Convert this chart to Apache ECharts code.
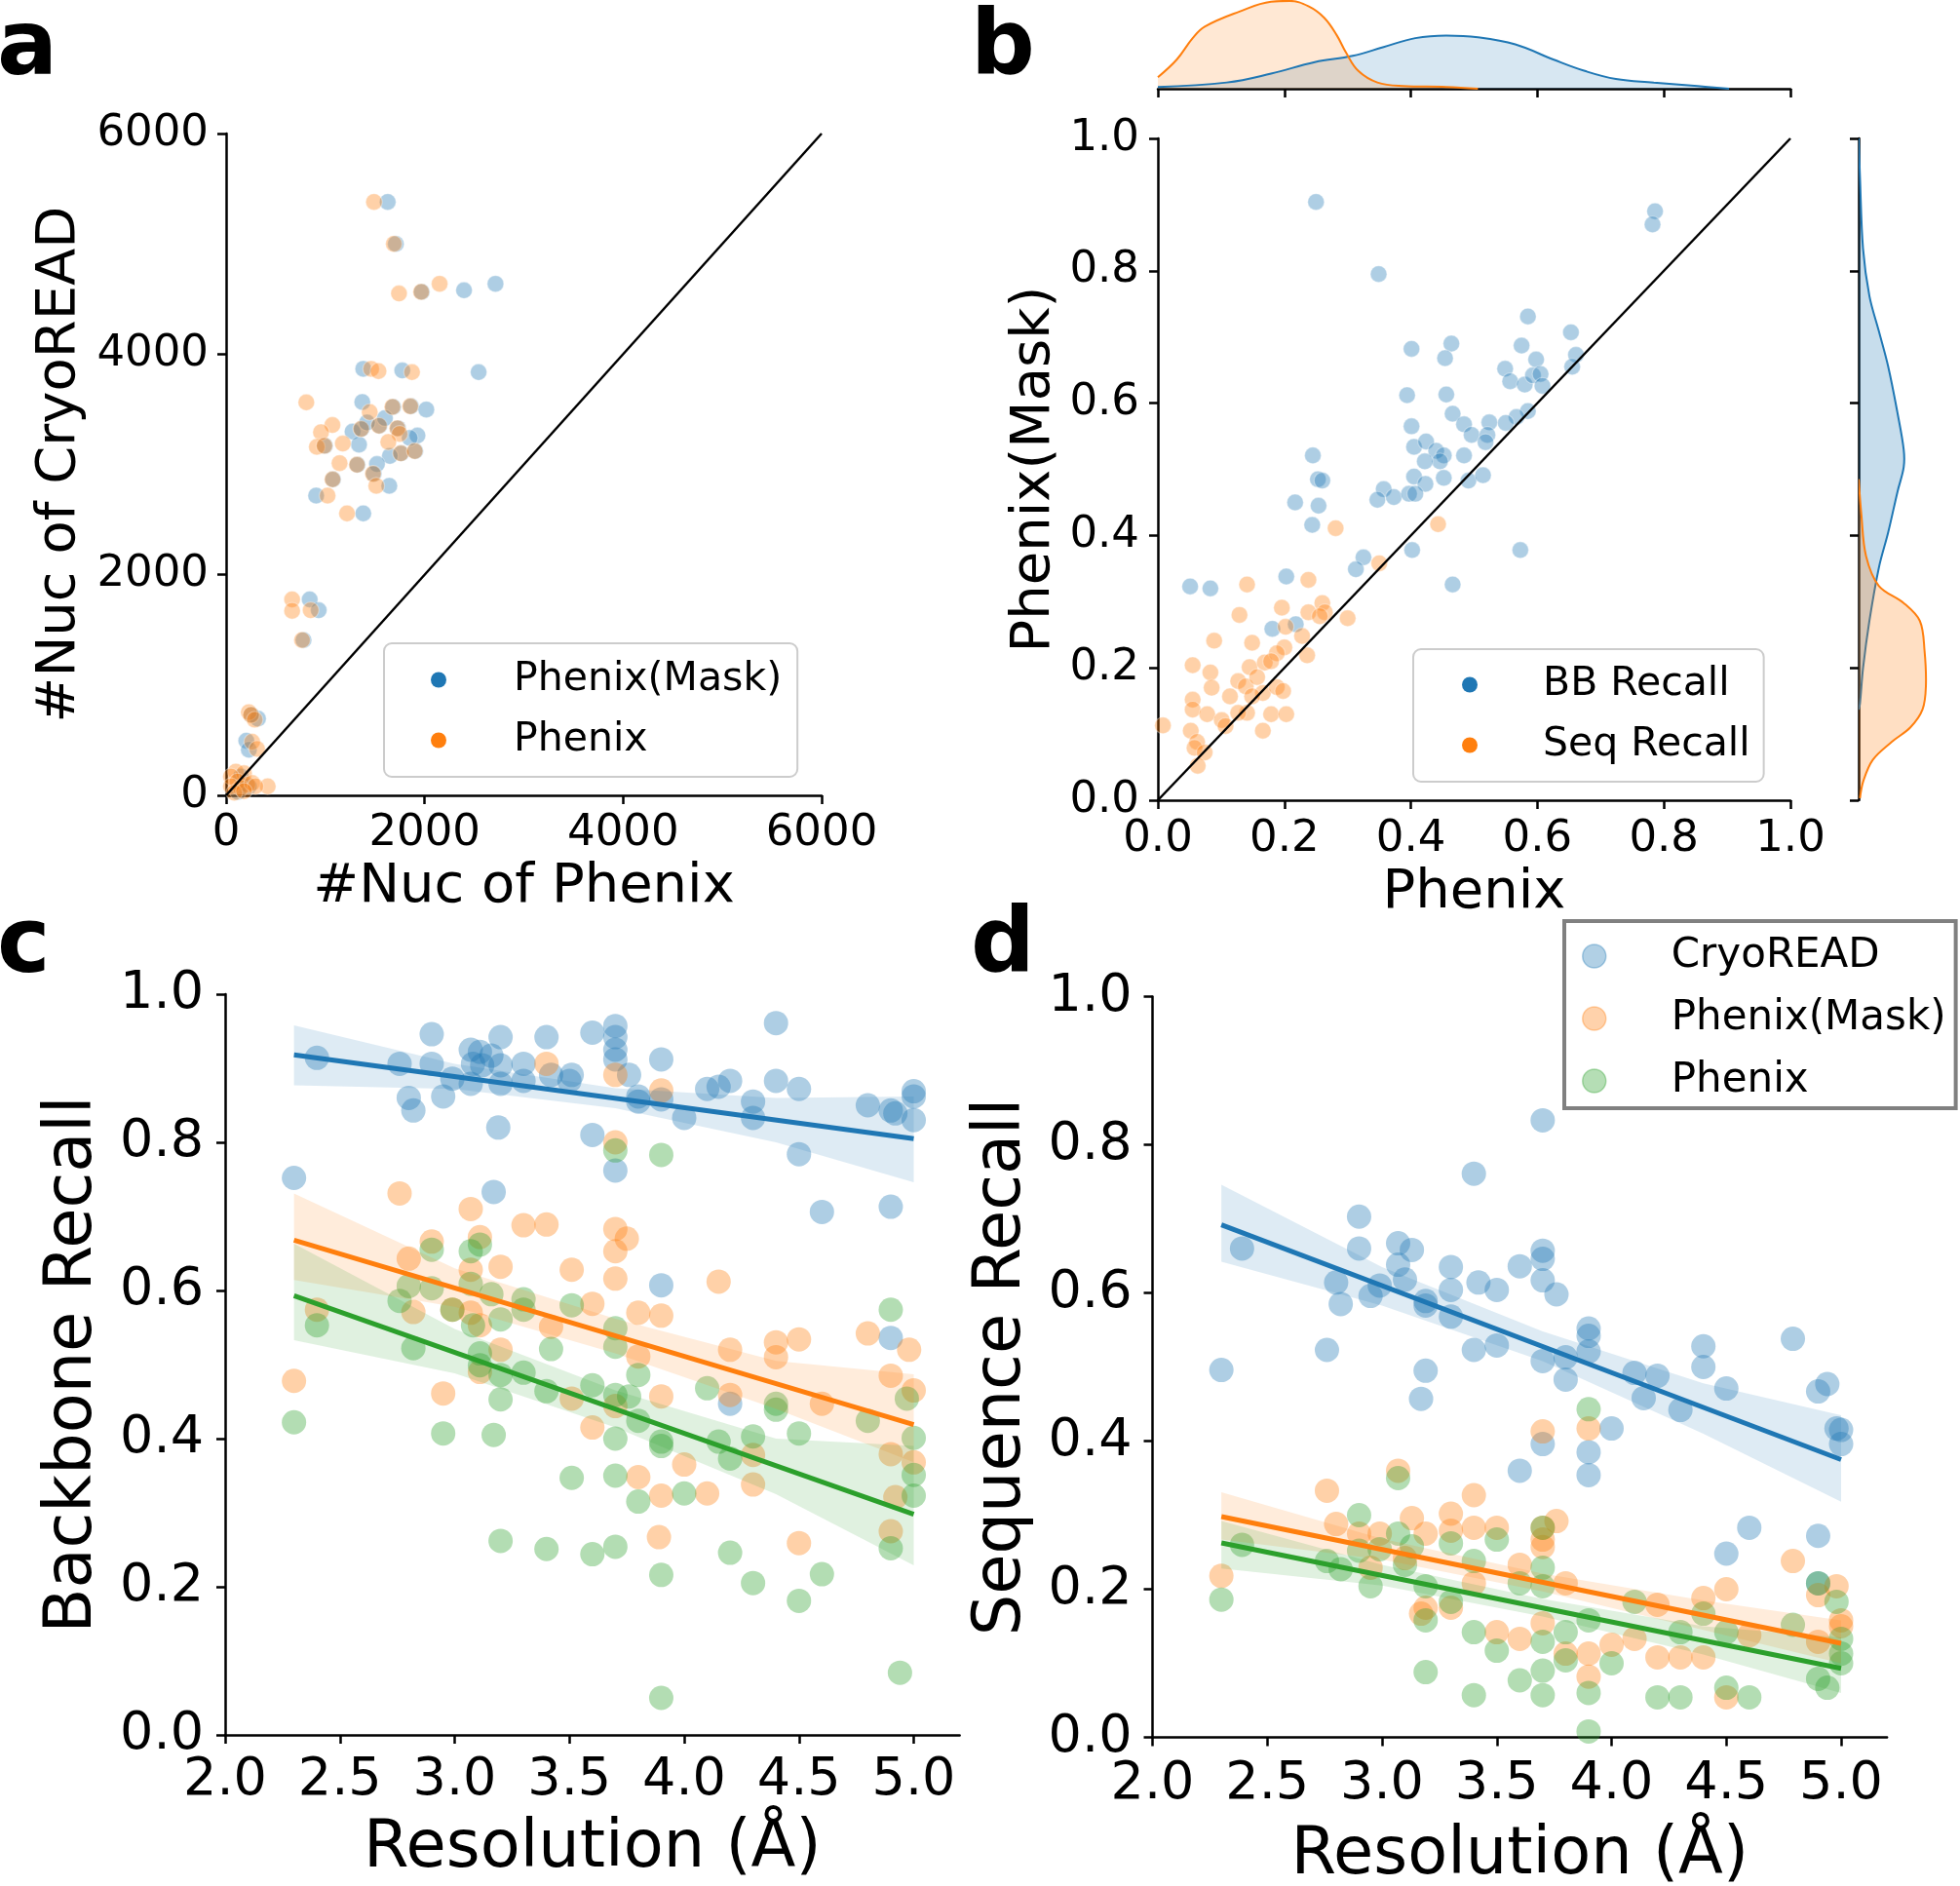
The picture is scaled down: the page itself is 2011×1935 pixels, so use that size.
<!DOCTYPE html>
<html><head><meta charset="utf-8">
<script src="https://cdn.jsdelivr.net/npm/echarts@6/dist/echarts.min.js"></script>
<style>html,body{margin:0;padding:0;background:#fff}#c{width:2011px;height:1935px}</style>
</head><body><div id="c"></div>
<script>
// ---------- Panel a: #Nuc counts [x = Phenix-variant count, y = CryoREAD count] ----------
const nucMask = [[1628,5380],[1710,5000],[1971,4565],[2397,4579],[2714,4638],[2544,3837],[1382,3867],[1775,3852],[1372,3566],[1683,3522],[1863,3527],[2017,3498],[1274,3298],[1365,3322],[1545,3351],[1732,3328],[1928,3262],[995,3169],[1339,3180],[1765,3101],[1906,3121],[1650,3077],[1323,2997],[1520,3004],[1487,2915],[1077,2865],[1644,2806],[907,2718],[1382,2556],[842,1776],[933,1678],[780,1408],[321,695],[255,730],[203,495],[229,413],[150,170],[229,80],[120,30],[1850,3240],[1600,3420],[1420,3380]];
const nucPhenix = [[1490,5380],[1690,5000],[1742,4550],[1965,4565],[2151,4638],[1461,3867],[1535,3846],[1873,3837],[808,3563],[1447,3475],[1675,3522],[1855,3527],[1071,3357],[956,3292],[1360,3322],[1540,3351],[1725,3328],[1748,3277],[914,3160],[990,3169],[1176,3189],[1634,3204],[1760,3101],[1900,3121],[1143,3012],[1318,2997],[1480,2915],[1072,2865],[1513,2806],[1022,2718],[1218,2556],[665,1776],[665,1673],[852,1678],[765,1408],[229,754],[250,730],[288,686],[262,486],[311,421],[419,82],[98,215],[180,200],[49,171],[115,126],[213,97],[49,82],[147,68],[262,112],[295,82],[82,24],[180,38]];
const diagA = [[0,0],[6000,6000]];
const ticksA = [0,2000,4000,6000];

// ---------- Panel b: recall [x = Phenix, y = Phenix(Mask)] ----------
const bbRecall = [[0.250,0.904],[0.349,0.795],[0.786,0.890],[0.782,0.870],[0.585,0.731],[0.653,0.707],[0.401,0.682],[0.464,0.690],[0.454,0.668],[0.575,0.687],[0.598,0.666],[0.661,0.673],[0.655,0.655],[0.549,0.652],[0.557,0.633],[0.580,0.628],[0.593,0.642],[0.605,0.644],[0.608,0.626],[0.394,0.612],[0.456,0.613],[0.466,0.584],[0.585,0.588],[0.567,0.579],[0.550,0.570],[0.524,0.571],[0.484,0.568],[0.496,0.552],[0.521,0.552],[0.518,0.541],[0.401,0.565],[0.405,0.534],[0.424,0.542],[0.440,0.528],[0.452,0.521],[0.446,0.512],[0.484,0.521],[0.422,0.512],[0.405,0.489],[0.423,0.478],[0.452,0.487],[0.491,0.483],[0.514,0.491],[0.245,0.521],[0.253,0.485],[0.260,0.483],[0.357,0.470],[0.347,0.454],[0.373,0.458],[0.397,0.463],[0.407,0.463],[0.217,0.450],[0.254,0.445],[0.244,0.416],[0.402,0.378],[0.573,0.378],[0.466,0.326],[0.325,0.367],[0.313,0.349],[0.203,0.338],[0.051,0.323],[0.083,0.320],[0.181,0.259],[0.218,0.266]];
const seqRecall = [[0.281,0.411],[0.443,0.417],[0.350,0.358],[0.141,0.326],[0.238,0.333],[0.129,0.280],[0.196,0.291],[0.238,0.284],[0.260,0.298],[0.264,0.284],[0.256,0.278],[0.300,0.275],[0.089,0.241],[0.149,0.238],[0.202,0.262],[0.228,0.248],[0.200,0.231],[0.055,0.204],[0.083,0.193],[0.145,0.201],[0.169,0.208],[0.188,0.222],[0.179,0.210],[0.236,0.219],[0.085,0.170],[0.127,0.180],[0.139,0.172],[0.157,0.186],[0.114,0.157],[0.055,0.152],[0.055,0.137],[0.078,0.130],[0.101,0.121],[0.141,0.132],[0.166,0.162],[0.188,0.171],[0.198,0.165],[0.179,0.130],[0.203,0.130],[0.107,0.112],[0.052,0.105],[0.008,0.113],[0.166,0.105],[0.062,0.088],[0.058,0.079],[0.074,0.072],[0.063,0.052],[0.127,0.132],[0.149,0.157]];
const diagB = [[0,0],[1,1]];
// marginal densities (relative height)
const kdeTopBB  = [[0,0.02],[0.109,0.07],[0.179,0.17],[0.248,0.30],[0.308,0.37],[0.357,0.47],[0.407,0.57],[0.456,0.60],[0.506,0.58],[0.565,0.50],[0.625,0.33],[0.675,0.20],[0.724,0.11],[0.784,0.07],[0.853,0.03],[0.903,0.0]];
const kdeTopSeq = [[0,0.13],[0.030,0.33],[0.055,0.57],[0.074,0.70],[0.129,0.87],[0.179,0.98],[0.208,0.99],[0.238,0.93],[0.263,0.80],[0.283,0.60],[0.298,0.40],[0.317,0.20],[0.347,0.07],[0.387,0.03],[0.456,0.02],[0.506,0.0]];
const kdeRightBB  = [[0,1.0],[0.02,0.941],[0.065,0.834],[0.16,0.762],[0.30,0.709],[0.44,0.655],[0.58,0.584],[0.67,0.530],[0.67,0.503],[0.58,0.467],[0.44,0.405],[0.30,0.351],[0.16,0.271],[0.065,0.199],[0.02,0.146],[0,0.137]];
const kdeRightSeq = [[0,0.485],[0.04,0.432],[0.11,0.369],[0.30,0.324],[0.67,0.298],[0.91,0.271],[0.98,0.226],[1.0,0.172],[0.95,0.137],[0.77,0.110],[0.49,0.088],[0.21,0.061],[0.07,0.029],[0.02,0.003]];
const ticksB = [0,0.2,0.4,0.6,0.8,1.0];

// ---------- Panel c: Backbone recall vs resolution ----------
const bbCryo = [[2.30,0.752],[2.40,0.914],[2.76,0.906],[2.90,0.946],[2.90,0.906],[2.80,0.860],[2.82,0.843],[2.95,0.862],[2.99,0.886],[3.07,0.925],[3.11,0.922],[3.08,0.906],[3.07,0.879],[3.12,0.904],[3.16,0.917],[3.20,0.942],[3.20,0.904],[3.20,0.879],[3.19,0.820],[3.17,0.733],[3.30,0.906],[3.30,0.883],[3.40,0.942],[3.42,0.891],[3.51,0.891],[3.50,0.883],[3.60,0.948],[3.60,0.810],[3.70,0.957],[3.70,0.942],[3.70,0.925],[3.70,0.912],[3.70,0.762],[3.76,0.891],[3.80,0.862],[3.80,0.855],[3.90,0.912],[3.90,0.858],[3.90,0.607],[4.00,0.833],[4.10,0.872],[4.15,0.875],[4.20,0.883],[4.30,0.855],[4.30,0.833],[4.20,0.447],[4.40,0.961],[4.40,0.883],[4.50,0.872],[4.50,0.784],[4.60,0.706],[4.80,0.850],[4.90,0.843],[4.90,0.713],[4.90,0.536],[4.92,0.839],[5.00,0.869],[5.00,0.862],[5.00,0.830]];
const bbMask = [[2.30,0.478],[2.40,0.574],[2.76,0.731],[2.80,0.643],[2.82,0.571],[2.90,0.666],[2.95,0.461],[2.99,0.574],[3.07,0.710],[3.07,0.628],[3.11,0.672],[3.07,0.570],[3.11,0.553],[3.20,0.632],[3.20,0.520],[3.11,0.490],[3.30,0.688],[3.40,0.689],[3.40,0.906],[3.42,0.551],[3.51,0.628],[3.51,0.454],[3.60,0.582],[3.60,0.415],[3.70,0.683],[3.70,0.653],[3.70,0.616],[3.75,0.670],[3.70,0.800],[3.70,0.891],[3.70,0.444],[3.80,0.570],[3.80,0.511],[3.80,0.348],[3.90,0.566],[3.90,0.457],[3.90,0.323],[3.90,0.870],[3.89,0.267],[4.00,0.365],[4.10,0.326],[4.15,0.612],[4.20,0.520],[4.20,0.459],[4.30,0.378],[4.30,0.338],[4.40,0.530],[4.40,0.510],[4.50,0.534],[4.50,0.259],[4.60,0.447],[4.80,0.542],[4.90,0.485],[4.90,0.379],[4.90,0.275],[4.92,0.321],[4.98,0.520],[5.00,0.465],[5.00,0.368]];
const bbPhenix = [[2.30,0.422],[2.40,0.553],[2.76,0.586],[2.80,0.606],[2.82,0.522],[2.90,0.655],[2.90,0.603],[2.95,0.407],[2.99,0.574],[3.07,0.653],[3.11,0.662],[3.07,0.609],[3.08,0.553],[3.11,0.515],[3.11,0.499],[3.16,0.595],[3.20,0.561],[3.20,0.486],[3.20,0.453],[3.17,0.405],[3.20,0.262],[3.30,0.588],[3.30,0.574],[3.30,0.489],[3.40,0.464],[3.42,0.521],[3.40,0.251],[3.51,0.580],[3.51,0.347],[3.60,0.472],[3.60,0.244],[3.70,0.549],[3.70,0.524],[3.70,0.459],[3.70,0.400],[3.70,0.350],[3.70,0.254],[3.70,0.789],[3.76,0.457],[3.80,0.486],[3.80,0.424],[3.80,0.315],[3.90,0.783],[3.90,0.396],[3.90,0.390],[3.90,0.216],[3.90,0.050],[4.00,0.326],[4.10,0.468],[4.15,0.396],[4.20,0.373],[4.20,0.246],[4.30,0.403],[4.30,0.205],[4.40,0.447],[4.40,0.439],[4.50,0.407],[4.50,0.181],[4.60,0.217],[4.80,0.424],[4.90,0.574],[4.90,0.252],[4.94,0.084],[4.97,0.454],[5.00,0.401],[5.00,0.351],[5.00,0.323]];
const bbCryoFit = [[2.3,0.918],[5.0,0.805]];
const bbMaskFit = [[2.3,0.668],[5.0,0.419]];
const bbPhenixFit = [[2.3,0.593],[5.0,0.298]];
const bandX = [2.3,3.0,3.7,4.4,5.0];
const bbCryoHi = [0.958,0.906,0.873,0.860,0.862], bbCryoLo = [0.877,0.872,0.846,0.800,0.746];
const bbMaskHi = [0.731,0.630,0.562,0.505,0.487], bbMaskLo = [0.614,0.578,0.515,0.440,0.368];
const bbPhenixHi = [0.663,0.548,0.465,0.400,0.390], bbPhenixLo = [0.533,0.488,0.415,0.325,0.229];

// ---------- Panel d: Sequence recall vs resolution ----------
const seqCryo = [[2.30,0.496],[2.39,0.660],[2.76,0.523],[2.80,0.614],[2.82,0.585],[2.90,0.703],[2.90,0.660],[2.95,0.596],[2.99,0.610],[3.07,0.667],[3.07,0.638],[3.10,0.618],[3.13,0.658],[3.17,0.457],[3.19,0.589],[3.19,0.583],[3.19,0.495],[3.30,0.635],[3.30,0.604],[3.30,0.568],[3.40,0.761],[3.42,0.614],[3.40,0.523],[3.50,0.604],[3.50,0.529],[3.60,0.636],[3.60,0.360],[3.70,0.833],[3.70,0.657],[3.70,0.646],[3.70,0.617],[3.70,0.508],[3.70,0.396],[3.76,0.598],[3.80,0.513],[3.80,0.483],[3.90,0.552],[3.90,0.542],[3.90,0.521],[3.90,0.385],[3.90,0.354],[4.00,0.417],[4.10,0.492],[4.14,0.458],[4.20,0.488],[4.30,0.442],[4.40,0.528],[4.40,0.500],[4.50,0.471],[4.50,0.248],[4.60,0.283],[4.79,0.538],[4.90,0.467],[4.94,0.477],[4.90,0.272],[4.98,0.417],[5.00,0.415],[5.00,0.396],[4.90,0.208]];
const seqMask = [[2.30,0.218],[2.76,0.333],[2.80,0.288],[2.90,0.275],[2.95,0.229],[2.99,0.275],[3.07,0.360],[3.10,0.242],[3.13,0.296],[3.19,0.275],[3.17,0.167],[3.19,0.175],[3.30,0.302],[3.30,0.279],[3.30,0.175],[3.40,0.327],[3.40,0.283],[3.40,0.208],[3.50,0.283],[3.50,0.142],[3.60,0.233],[3.60,0.133],[3.70,0.413],[3.70,0.283],[3.70,0.267],[3.70,0.257],[3.70,0.154],[3.76,0.292],[3.80,0.208],[3.80,0.113],[3.90,0.417],[3.90,0.113],[3.90,0.082],[4.00,0.125],[4.10,0.133],[4.20,0.179],[4.20,0.108],[4.30,0.108],[4.40,0.188],[4.40,0.108],[4.50,0.200],[4.50,0.054],[4.60,0.138],[4.79,0.238],[4.90,0.192],[4.90,0.129],[4.98,0.204],[5.00,0.158],[5.00,0.150]];
const seqPhenix = [[2.30,0.186],[2.39,0.260],[2.76,0.238],[2.82,0.227],[2.90,0.300],[2.90,0.252],[2.95,0.204],[2.99,0.254],[3.07,0.350],[3.07,0.275],[3.10,0.233],[3.13,0.258],[3.19,0.204],[3.19,0.088],[3.19,0.158],[3.30,0.262],[3.30,0.183],[3.40,0.238],[3.40,0.142],[3.40,0.057],[3.50,0.267],[3.50,0.117],[3.60,0.208],[3.60,0.077],[3.70,0.283],[3.70,0.229],[3.70,0.204],[3.70,0.129],[3.70,0.090],[3.70,0.057],[3.80,0.142],[3.80,0.104],[3.90,0.443],[3.90,0.158],[3.90,0.060],[3.90,0.008],[4.00,0.100],[4.10,0.183],[4.20,0.054],[4.30,0.054],[4.30,0.142],[4.40,0.167],[4.50,0.067],[4.50,0.142],[4.60,0.054],[4.79,0.152],[4.90,0.079],[4.90,0.208],[4.94,0.067],[4.98,0.183],[5.00,0.133],[5.00,0.113],[5.00,0.100]];
const seqCryoFit = [[2.3,0.692],[5.0,0.375]];
const seqMaskFit = [[2.3,0.298],[5.0,0.127]];
const seqPhenixFit = [[2.3,0.2625],[5.0,0.093]];
const seqCryoHi = [0.746,0.635,0.548,0.478,0.435], seqCryoLo = [0.642,0.583,0.508,0.410,0.318];
const seqMaskHi = [0.331,0.268,0.221,0.185,0.158], seqMaskLo = [0.267,0.240,0.197,0.145,0.100];
const seqPhenixHi = [0.292,0.233,0.187,0.150,0.135], seqPhenixLo = [0.228,0.205,0.163,0.112,0.060];
const resTicks = [2.0,2.5,3.0,3.5,4.0,4.5,5.0];
const recallTicks = [0,0.2,0.4,0.6,0.8,1.0];

// ---------- rendering ----------
const FONT = 'DejaVu Sans';
const BLUE = '#1f77b4', ORANGE = '#ff7f0e', GREEN = '#2ca02c';
const RGBA = {b:'rgba(31,119,180,', o:'rgba(255,127,14,', g:'rgba(44,160,44,'};
const legendNames = {a_mask:'Phenix(Mask)', a_phen:'Phenix', b_bb:'BB Recall', b_seq:'Seq Recall', d_cryo:'CryoREAD', d_mask:'Phenix(Mask)', d_phen:'Phenix'};

function ax(gi, min, max, opt) {
  return Object.assign({
    gridIndex: gi, type: 'value', min: min, max: max,
    axisLine: {show: true, onZero: false, lineStyle: {color: '#000', width: 2.5}},
    axisTick: {show: true, inside: false, length: 9, lineStyle: {color: '#000', width: 2.5}},
    splitLine: {show: false},
    axisLabel: {show: true, color: '#000', fontFamily: FONT, fontSize: 44, margin: 14},
    nameLocation: 'middle',
    nameTextStyle: {color: '#000', fontFamily: FONT, fontSize: 56}
  }, opt || {});
}
const f1 = v => v.toFixed(1);
const f0 = v => String(Math.round(v));

function band(xi, yi, lo, hi, col) {
  return {type: 'custom', xAxisIndex: xi, yAxisIndex: yi, silent: true, clip: true, z: 3,
    data: [[bandX[0], lo[0]]],
    renderItem: function (p, api) {
      const up = bandX.map((x, i) => api.coord([x, hi[i]]));
      const dn = bandX.map((x, i) => api.coord([x, lo[i]])).reverse();
      return {type: 'polygon', shape: {points: up.concat(dn)}, style: {fill: col + '0.15)'}};
    }};
}
function fit(xi, yi, d, c) {
  return {type: 'line', xAxisIndex: xi, yAxisIndex: yi, data: d, symbol: 'none', silent: true, z: 4,
    lineStyle: {color: c, width: 5}};
}
function sc(name, xi, yi, d, c, size, edge, z) {
  return {type: 'scatter', name: name, xAxisIndex: xi, yAxisIndex: yi, data: d, symbolSize: size, z: z || 2,
    itemStyle: edge ? {color: c, opacity: 0.36, borderColor: '#fff', borderWidth: 1.2} : {color: c, opacity: 0.36}};
}
function kdeRight(pts, c, rg) {
  return {type: 'custom', xAxisIndex: 3, yAxisIndex: 3, silent: true, clip: true, z: 2,
    data: [[pts[0][0], pts[0][1]]],
    renderItem: function (p, api) {
      const curve = pts.map(q => api.coord(q));
      const base = [api.coord([0, pts[pts.length - 1][1]]), api.coord([0, pts[0][1]])];
      return {type: 'group', children: [
        {type: 'polygon', shape: {points: curve.concat(base), smooth: 0.35}, style: {fill: rg + '0.25)'}},
        {type: 'polyline', shape: {points: curve, smooth: 0.35}, style: {stroke: c, lineWidth: 2, fill: null}}
      ]};
    }};
}
function kdeTop(pts, c, rg) {
  return {type: 'line', xAxisIndex: 2, yAxisIndex: 2, data: pts, smooth: 0.4, symbol: 'none', silent: true, z: 2,
    lineStyle: {color: c, width: 2}, areaStyle: {color: rg + '0.25)'}};
}

const resAxisOpt = (name, gap, marg) => ({
  interval: 0.5,
  axisTick: {show: true, length: 9, lineStyle: {color: '#000', width: 2.5}, customValues: resTicks},
  axisLabel: {show: true, color: '#000', fontFamily: FONT, fontSize: 54, margin: marg, customValues: resTicks,
    formatter: v => (Math.abs(v * 2 - Math.round(v * 2)) < 1e-6 ? v.toFixed(1) : '')},
  name: name, nameGap: gap, nameTextStyle: {color: '#000', fontFamily: FONT, fontSize: 67}
});

const option = {
  animation: false,
  backgroundColor: '#fff',
  grid: [
    {left: 232, top: 137, width: 611, height: 679, outerBoundsMode: 'none'},
    {left: 1188, top: 142, width: 649, height: 679, outerBoundsMode: 'none'},
    {left: 1188, top: 0, width: 649, height: 91, outerBoundsMode: 'none'},
    {left: 1907, top: 142, width: 75, height: 679, outerBoundsMode: 'none'},
    {left: 231, top: 1020, width: 753.6, height: 760, outerBoundsMode: 'none'},
    {left: 1182.5, top: 1022.5, width: 753.6, height: 760, outerBoundsMode: 'none'}
  ],
  xAxis: [
    ax(0, 0, 6000, {interval: 2000, name: '#Nuc of Phenix', nameGap: 66,
      axisLabel: {color: '#000', fontFamily: FONT, fontSize: 45, margin: 17, formatter: f0}}),
    ax(1, 0, 1, {interval: 0.2, name: 'Phenix', nameGap: 67,
      axisLabel: {color: '#000', fontFamily: FONT, fontSize: 45, margin: 18, formatter: f1}}),
    ax(2, 0, 1, {interval: 0.2, axisLabel: {show: false}}),
    ax(3, 0, 1.087, {show: false}),
    ax(4, 2, 5.2, resAxisOpt('Resolution (Å)', 84, 20)),
    ax(5, 2, 5.2, resAxisOpt('Resolution (Å)', 89, 21))
  ],
  yAxis: [
    ax(0, 0, 6000, {interval: 2000, name: '#Nuc of CryoREAD', nameGap: 143,
      axisLabel: {color: '#000', fontFamily: FONT, fontSize: 45, margin: 18, formatter: f0}}),
    ax(1, 0, 1, {interval: 0.2, name: 'Phenix(Mask)', nameGap: 99,
      axisLabel: {color: '#000', fontFamily: FONT, fontSize: 45, margin: 19, formatter: f1}}),
    ax(2, 0, 1.0, {show: false}),
    ax(3, 0, 1, {interval: 0.2, axisLabel: {show: false}}),
    ax(4, 0, 1, {interval: 0.2, name: 'Backbone Recall', nameGap: 122,
      nameTextStyle: {color: '#000', fontFamily: FONT, fontSize: 67},
      axisLabel: {color: '#000', fontFamily: FONT, fontSize: 54, margin: 22, formatter: f1}}),
    ax(5, 0, 1, {interval: 0.2, name: 'Sequence Recall', nameGap: 120,
      nameTextStyle: {color: '#000', fontFamily: FONT, fontSize: 67},
      axisLabel: {color: '#000', fontFamily: FONT, fontSize: 54, margin: 21, formatter: f1}})
  ],
  legend: [
    {left: 394, top: 660, orient: 'vertical', selectedMode: false, itemWidth: 16, itemHeight: 16, itemGap: 21,
      padding: [17, 16, 17, 48], borderColor: '#cccccc', borderWidth: 2, borderRadius: 8, backgroundColor: 'rgba(255,255,255,0.8)',
      formatter: n => legendNames[n],
      textStyle: {fontSize: 41, lineHeight: 40, fontFamily: FONT, color: '#000', padding: [0, 0, 0, 64]},
      data: [{name: 'a_mask', icon: 'circle', itemStyle: {color: BLUE, opacity: 1, borderWidth: 0}},
             {name: 'a_phen', icon: 'circle', itemStyle: {color: ORANGE, opacity: 1, borderWidth: 0}}]},
    {left: 1450, top: 666, orient: 'vertical', selectedMode: false, itemWidth: 16, itemHeight: 16, itemGap: 21,
      padding: [16, 14, 17, 50], borderColor: '#cccccc', borderWidth: 2, borderRadius: 8, backgroundColor: 'rgba(255,255,255,0.8)',
      formatter: n => legendNames[n],
      textStyle: {fontSize: 41, lineHeight: 40, fontFamily: FONT, color: '#000', padding: [0, 0, 0, 62]},
      data: [{name: 'b_bb', icon: 'circle', itemStyle: {color: BLUE, opacity: 1, borderWidth: 0}},
             {name: 'b_seq', icon: 'circle', itemStyle: {color: ORANGE, opacity: 1, borderWidth: 0}}]},
    {left: 1605, top: 945, orient: 'vertical', selectedMode: false, itemWidth: 24, itemHeight: 24, itemGap: 22,
      padding: [15, 10, 7, 18], borderColor: '#808080', borderWidth: 4, borderRadius: 0, backgroundColor: '#fff',
      formatter: n => legendNames[n],
      textStyle: {fontSize: 42, lineHeight: 41, fontFamily: FONT, color: '#000', padding: [0, 0, 0, 62]},
      data: [{name: 'd_cryo', icon: 'circle', itemStyle: {color: BLUE, opacity: 0.35, borderColor: BLUE, borderWidth: 1.5}},
             {name: 'd_mask', icon: 'circle', itemStyle: {color: ORANGE, opacity: 0.35, borderColor: ORANGE, borderWidth: 1.5}},
             {name: 'd_phen', icon: 'circle', itemStyle: {color: GREEN, opacity: 0.35, borderColor: GREEN, borderWidth: 1.5}}]}
  ],
  graphic: [
    {type: 'text', left: -3, top: 6, style: {text: 'a', font: 'bold 92px "DejaVu Sans"', fill: '#000'}},
    {type: 'text', left: 996, top: 6, style: {text: 'b', font: 'bold 92px "DejaVu Sans"', fill: '#000'}},
    {type: 'text', left: -3, top: 927, style: {text: 'c', font: 'bold 92px "DejaVu Sans"', fill: '#000'}},
    {type: 'text', left: 996, top: 927, style: {text: 'd', font: 'bold 92px "DejaVu Sans"', fill: '#000'}}
  ],
  series: [
    // a
    sc('a_mask', 0, 0, nucMask, BLUE, 17, true, 2),
    sc('a_phen', 0, 0, nucPhenix, ORANGE, 17, true, 2),
    {type: 'line', xAxisIndex: 0, yAxisIndex: 0, data: diagA, symbol: 'none', silent: true, z: 5, lineStyle: {color: '#000', width: 2.5}},
    // b
    sc('b_bb', 1, 1, bbRecall, BLUE, 17, true, 2),
    sc('b_seq', 1, 1, seqRecall, ORANGE, 17, true, 2),
    {type: 'line', xAxisIndex: 1, yAxisIndex: 1, data: diagB, symbol: 'none', silent: true, z: 5, lineStyle: {color: '#000', width: 2.5}},
    kdeTop(kdeTopBB, BLUE, RGBA.b),
    kdeTop(kdeTopSeq, ORANGE, RGBA.o),
    kdeRight(kdeRightBB, BLUE, RGBA.b),
    kdeRight(kdeRightSeq, ORANGE, RGBA.o),
    // c
    sc('c_cryo', 4, 4, bbCryo, BLUE, 25, false, 2),
    band(4, 4, bbCryoLo, bbCryoHi, RGBA.b), fit(4, 4, bbCryoFit, BLUE),
    sc('c_mask', 4, 4, bbMask, ORANGE, 25, false, 2),
    band(4, 4, bbMaskLo, bbMaskHi, RGBA.o), fit(4, 4, bbMaskFit, ORANGE),
    sc('c_phen', 4, 4, bbPhenix, GREEN, 25, false, 2),
    band(4, 4, bbPhenixLo, bbPhenixHi, RGBA.g), fit(4, 4, bbPhenixFit, GREEN),
    // d
    sc('d_cryo', 5, 5, seqCryo, BLUE, 25, false, 2),
    band(5, 5, seqCryoLo, seqCryoHi, RGBA.b), fit(5, 5, seqCryoFit, BLUE),
    sc('d_mask', 5, 5, seqMask, ORANGE, 25, false, 2),
    band(5, 5, seqMaskLo, seqMaskHi, RGBA.o), fit(5, 5, seqMaskFit, ORANGE),
    sc('d_phen', 5, 5, seqPhenix, GREEN, 25, false, 2),
    band(5, 5, seqPhenixLo, seqPhenixHi, RGBA.g), fit(5, 5, seqPhenixFit, GREEN)
  ]
};
const chart = echarts.init(document.getElementById('c'), null, {renderer: 'canvas', width: 2011, height: 1935});
chart.setOption(option);
</script></body></html>
